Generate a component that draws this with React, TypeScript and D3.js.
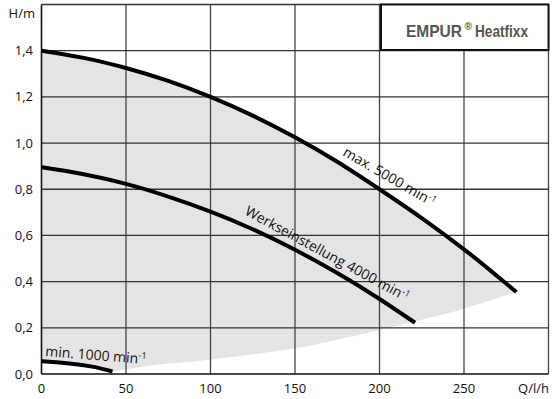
import { useMemo } from "react";
import { scaleLinear, line, curveNatural, range } from "d3";

const WIDTH = 554;
const HEIGHT = 399;
const PLOT = { left: 41.5, right: 548.5, top: 4.5, bottom: 374 };

// Förderstrom Q (l/h) und Förderhöhe H (m)
const maxQ = [0, 25, 50, 75, 100, 125, 150, 175, 200, 225, 250, 265, 281];
const maxH = [1.4, 1.369, 1.325, 1.269, 1.2, 1.119, 1.025, 0.919, 0.8, 0.675, 0.54, 0.452, 0.355];

const werkQ = [0, 25, 50, 75, 100, 125, 150, 175, 200, 221];
const werkH = [0.895, 0.865, 0.823, 0.768, 0.703, 0.627, 0.538, 0.437, 0.325, 0.222];

const minQ = [0, 15, 30, 42];
const minH = [0.055, 0.047, 0.032, 0.011];

// untere Grenze der grauen Fläche (Anlagenkennlinie)
const sysQ = [42, 64, 80, 100, 125, 150, 175, 200, 225, 250, 281];
const sysH = [0.011, 0.036, 0.048, 0.062, 0.085, 0.11, 0.148, 0.19, 0.235, 0.283, 0.355];

const xTicks = [0, 50, 100, 150, 200, 250];
const yTicks = [0, 0.2, 0.4, 0.6, 0.8, 1.0, 1.2, 1.4];

const FONT = "'Open Sans', 'DejaVu Sans', sans-serif";
const TITLE_FONT = "'Liberation Sans', Arial, sans-serif";

const zip = (qs: number[], hs: number[]) => qs.map((q, i) => [q, hs[i]] as [number, number]);

export default function App() {
  const x = useMemo(() => scaleLinear().domain([0, 300]).range([PLOT.left, PLOT.right]), []);
  const y = useMemo(() => scaleLinear().domain([0, 1.6]).range([PLOT.bottom, PLOT.top]), []);

  const curve = line<[number, number]>()
    .x((d) => x(d[0]))
    .y((d) => y(d[1]))
    .curve(curveNatural);

  const maxPts = zip(maxQ, maxH);
  const werkPts = zip(werkQ, werkH);
  const minPts = zip(minQ, minH);
  const sysPts = zip(sysQ, sysH);

  // Fläche: oben max-Kurve, unten min-Kurve + Anlagenkennlinie
  const upperPath = curve(maxPts) ?? "";
  const minRev = curve([...minPts].reverse()) ?? "";
  const sysRev = curve([...sysPts].reverse()) ?? "";
  const fillPath = `${upperPath}L${sysRev.slice(1)}L${minRev.slice(1)}Z`;

  const vGrid = range(50, 301, 50);
  const hGrid = range(0.2, 1.61, 0.2);

  return (
    <svg width={WIDTH} height={HEIGHT} style={{ position: "absolute", left: 0, top: 0, background: "#fff" }} fontFamily={FONT}>
      <path d={fillPath} fill="#e4e4e4" stroke="none" />

      {vGrid.map((v) => (
        <line key={`v${v}`} x1={x(v)} x2={x(v)} y1={PLOT.top} y2={PLOT.bottom} stroke="#444" strokeWidth={1.3} />
      ))}
      {hGrid.map((v) => (
        <line key={`h${v}`} x1={PLOT.left} x2={PLOT.right} y1={y(v)} y2={y(v)} stroke="#333" strokeWidth={1.3} />
      ))}
      <line x1={PLOT.left} x2={PLOT.left} y1={PLOT.top} y2={PLOT.bottom} stroke="#111" strokeWidth={1.6} />
      <line x1={PLOT.left} x2={PLOT.right} y1={PLOT.bottom} y2={PLOT.bottom} stroke="#111" strokeWidth={1.6} />

      <path d={upperPath} fill="none" stroke="#000" strokeWidth={4} />
      <path d={curve(werkPts) ?? ""} fill="none" stroke="#000" strokeWidth={4} />
      <path d={curve(minPts) ?? ""} fill="none" stroke="#000" strokeWidth={4} />

      <g fontSize={14} fill="#111">
        <text transform="translate(342,155) rotate(30)">
          max. 5000 min<tspan dy={-5} fontSize={9}>-1</tspan>
        </text>
        <text transform="translate(244,214) rotate(28.5)">
          Werkseinstellung 4000 min<tspan dy={-5} fontSize={9}>-1</tspan>
        </text>
        <text transform="translate(45,356) rotate(4.5)">
          min. 1000 min<tspan dy={-5} fontSize={9}>-1</tspan>
        </text>
      </g>

      <rect x={381} y={PLOT.top} width={PLOT.right - 381} height={45.5} fill="#fff" stroke="#111" strokeWidth={2} />
      <g fontFamily={TITLE_FONT} fontWeight="bold" fill="#555">
        <text x={406} y={37} fontSize={16.5} textLength={56} lengthAdjust="spacingAndGlyphs">EMPUR</text>
        <text x={464.5} y={30} fontSize={10}>®</text>
        <text x={475} y={37} fontSize={16.5} textLength={53} lengthAdjust="spacingAndGlyphs">Heatfixx</text>
      </g>

      <g fontSize={13} fill="#111">
        {yTicks.map((t) => (
          <text key={t} x={33} y={y(t) + 4.5} textAnchor="end">
            {t.toFixed(1).replace(".", ",")}
          </text>
        ))}
        {xTicks.map((t) => (
          <text key={t} x={x(t)} y={393} textAnchor="middle">
            {t}
          </text>
        ))}
        <text x={35} y={18} textAnchor="end">H/m</text>
        <text x={549} y={393} textAnchor="end">Q/l/h</text>
      </g>
    </svg>
  );
}
